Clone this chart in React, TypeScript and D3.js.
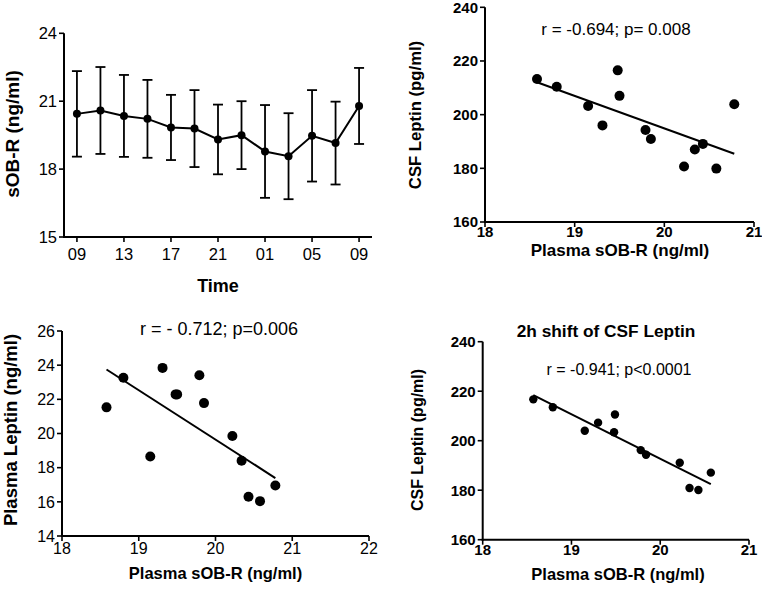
import React from "react";
import * as d3 from "d3";

// ---------- DATA ----------
const timeLabels = ["09", "11", "13", "15", "17", "19", "21", "23", "01", "03", "05", "07", "09"];
const sobrMean = [20.44, 20.59, 20.35, 20.22, 19.84, 19.79, 19.31, 19.5, 18.78, 18.57, 19.47, 19.15, 20.79];
const sobrErr = [1.89, 1.92, 1.81, 1.72, 1.44, 1.7, 1.54, 1.5, 2.05, 1.9, 2.02, 1.83, 1.68];
const sobrTicks = [15, 18, 21, 24];

const plasmaSobr = [18.58, 18.8, 19.15, 19.31, 19.48, 19.5, 19.79, 19.85, 20.22, 20.34, 20.43, 20.58, 20.78];
const csfLeptin = [213.3, 210.4, 203.2, 196.0, 216.5, 207.0, 194.3, 190.9, 180.7, 187.0, 189.1, 179.9, 203.9];
const plasmaLeptin = [21.53, 23.26, 18.65, 23.84, 22.29, 22.29, 23.41, 21.78, 19.85, 18.4, 16.3, 16.04, 16.96];
const plasmaSobrShift = [18.57, 18.79, 19.15, 19.3, 19.48, 19.49, 19.78, 19.84, 20.22, 20.33, 20.43, 20.57];
const csfLeptinShift = [216.7, 213.5, 204.0, 207.3, 203.4, 210.6, 196.2, 194.3, 191.1, 180.9, 180.1, 187.1];

const csfTicks = [160, 180, 200, 220, 240];
const sobrXTicks3 = [18, 19, 20, 21];
const sobrXTicks4 = [18, 19, 20, 21, 22];
const plasmaLeptinTicks = [14, 16, 18, 20, 22, 24, 26];

const FONT = "'Liberation Sans', Arial, Helvetica, sans-serif";

function fit(xs: number[], ys: number[]) {
  const mx = d3.mean(xs)!;
  const my = d3.mean(ys)!;
  let sxy = 0, sxx = 0;
  xs.forEach((x, i) => {
    sxy += (x - mx) * (ys[i] - my);
    sxx += (x - mx) * (x - mx);
  });
  const b = sxy / sxx;
  const a = my - b * mx;
  const x0 = d3.min(xs)!;
  const x1 = d3.max(xs)!;
  return [
    [x0, a + b * x0],
    [x1, a + b * x1],
  ];
}

type AxisProps = {
  x: d3.ScaleLinear<number, number>;
  y: d3.ScaleLinear<number, number>;
  xTicks: number[];
  xTickLabel: (v: number) => string;
  yTicks: number[];
  bold: boolean;
  fs: number;
  xLabelDy: number;
};

function Axes({ x, y, xTicks, xTickLabel, yTicks, bold, fs, xLabelDy }: AxisProps) {
  const [x0, x1] = x.range();
  const [y0, y1] = y.range();
  const fw = bold ? "bold" : "normal";
  return (
    <g>
      <line x1={x0} x2={x0} y1={y0 + 1} y2={y1} stroke="#000" strokeWidth={2} />
      <line x1={x0 - 1} x2={x1} y1={y0} y2={y0} stroke="#000" strokeWidth={2} />
      {yTicks.map((t) => (
        <g key={"y" + t}>
          <line x1={x0 - 5} x2={x0} y1={y(t)} y2={y(t)} stroke="#000" strokeWidth={1.6} />
          <text x={x0 - 7} y={y(t)} dy="0.36em" textAnchor="end" fontSize={fs} fontWeight={fw} fontFamily={FONT}>
            {t}
          </text>
        </g>
      ))}
      {xTicks.map((t, i) => (
        <g key={"x" + i}>
          <line x1={x(t)} x2={x(t)} y1={y0} y2={y0 + 5} stroke="#000" strokeWidth={1.6} />
          <text x={x(t)} y={y0 + xLabelDy} textAnchor="middle" fontSize={fs} fontWeight={fw} fontFamily={FONT}>
            {xTickLabel(t)}
          </text>
        </g>
      ))}
    </g>
  );
}

function Panel1() {
  const x = d3.scaleLinear().domain([-0.55, 12.55]).range([64, 372]);
  const y = d3.scaleLinear().domain([15, 24]).range([237, 33.3]);
  const line = d3
    .line<number>()
    .x((_, i) => x(i))
    .y((d) => y(d));
  const xt = timeLabels.map((_, i) => i).filter((i) => i % 2 === 0);
  return (
    <g>
      <Axes x={x} y={y} xTicks={xt} xTickLabel={(v) => timeLabels[v]} yTicks={sobrTicks} bold={false} fs={16.5} xLabelDy={23} />
      {sobrMean.map((m, i) => (
        <g key={i} stroke="#000" strokeWidth={1.8}>
          <line x1={x(i)} x2={x(i)} y1={y(m - sobrErr[i])} y2={y(m + sobrErr[i])} />
          <line x1={x(i) - 5} x2={x(i) + 5} y1={y(m + sobrErr[i])} y2={y(m + sobrErr[i])} />
          <line x1={x(i) - 5} x2={x(i) + 5} y1={y(m - sobrErr[i])} y2={y(m - sobrErr[i])} />
        </g>
      ))}
      <path d={line(sobrMean) || ""} fill="none" stroke="#000" strokeWidth={2} />
      {sobrMean.map((m, i) => (
        <circle key={"c" + i} cx={x(i)} cy={y(m)} r={4} fill="#000" />
      ))}
      <text x={218} y={292} textAnchor="middle" fontSize={18} fontWeight="bold" fontFamily={FONT}>
        Time
      </text>
      <text transform="translate(19,134) rotate(-90)" textAnchor="middle" fontSize={19} fontWeight="bold" fontFamily={FONT}>
        sOB-R (ng/ml)
      </text>
    </g>
  );
}

type ScatterProps = {
  xs: number[];
  ys: number[];
  xDomain: [number, number];
  yDomain: [number, number];
  xRange: [number, number];
  yRange: [number, number];
  xTicks: number[];
  yTicks: number[];
  bold: boolean;
  tickFs: number;
  xLabelDy: number;
  r: number;
};

function Scatter(p: ScatterProps) {
  const x = d3.scaleLinear().domain(p.xDomain).range(p.xRange);
  const y = d3.scaleLinear().domain(p.yDomain).range(p.yRange);
  const f = fit(p.xs, p.ys);
  return (
    <g>
      <Axes x={x} y={y} xTicks={p.xTicks} xTickLabel={(v) => String(v)} yTicks={p.yTicks} bold={p.bold} fs={p.tickFs} xLabelDy={p.xLabelDy} />
      <line x1={x(f[0][0])} y1={y(f[0][1])} x2={x(f[1][0])} y2={y(f[1][1])} stroke="#000" strokeWidth={2} />
      {p.xs.map((v, i) => (
        <circle key={i} cx={x(v)} cy={y(p.ys[i])} r={p.r} fill="#000" />
      ))}
    </g>
  );
}

export default function App() {
  return (
    <svg width={762} height={590} style={{ position: "absolute", left: 0, top: 0, background: "#fff" }}>
      <rect width={762} height={590} fill="#fff" />
      <Panel1 />

      {/* Panel 2 */}
      <Scatter
        xs={plasmaSobr}
        ys={csfLeptin}
        xDomain={[18, 21]}
        yDomain={[160, 240]}
        xRange={[485, 754]}
        yRange={[222, 7.3]}
        xTicks={sobrXTicks3}
        yTicks={csfTicks}
        bold={true}
        tickFs={15}
        xLabelDy={15}
        r={5}
      />
      <text x={616} y={35} textAnchor="middle" fontSize={17} fontFamily={FONT}>
        r = -0.694; p= 0.008
      </text>
      <text x={620} y={256} textAnchor="middle" fontSize={17} fontWeight="bold" fontFamily={FONT}>
        Plasma sOB-R (ng/ml)
      </text>
      <text transform="translate(421,115) rotate(-90)" textAnchor="middle" fontSize={16.7} fontWeight="bold" fontFamily={FONT}>
        CSF Leptin (pg/ml)
      </text>

      {/* Panel 3 */}
      <Scatter
        xs={plasmaSobr}
        ys={plasmaLeptin}
        xDomain={[18, 22]}
        yDomain={[14, 26]}
        xRange={[62, 369]}
        yRange={[536, 331]}
        xTicks={sobrXTicks4}
        yTicks={plasmaLeptinTicks}
        bold={false}
        tickFs={16}
        xLabelDy={18}
        r={5}
      />
      <text x={219} y={335} textAnchor="middle" fontSize={18} fontFamily={FONT}>
        r = - 0.712; p=0.006
      </text>
      <text x={215.5} y={579} textAnchor="middle" fontSize={16.5} fontWeight="bold" fontFamily={FONT}>
        Plasma sOB-R (ng/ml)
      </text>
      <text transform="translate(17,430) rotate(-90)" textAnchor="middle" fontSize={18.5} fontWeight="bold" fontFamily={FONT}>
        Plasma Leptin (ng/ml)
      </text>

      {/* Panel 4 */}
      <Scatter
        xs={plasmaSobrShift}
        ys={csfLeptinShift}
        xDomain={[18, 21]}
        yDomain={[160, 240]}
        xRange={[482.7, 749]}
        yRange={[539.7, 341.7]}
        xTicks={sobrXTicks3}
        yTicks={csfTicks}
        bold={true}
        tickFs={15}
        xLabelDy={15}
        r={4.2}
      />
      <text x={606} y={337} textAnchor="middle" fontSize={17.3} fontWeight="bold" fontFamily={FONT}>
        2h shift of CSF Leptin
      </text>
      <text x={619} y={375} textAnchor="middle" fontSize={16} fontFamily={FONT}>
        r = -0.941; p&lt;0.0001
      </text>
      <text x={618} y={580} textAnchor="middle" fontSize={16.5} fontWeight="bold" fontFamily={FONT}>
        Plasma sOB-R (ng/ml)
      </text>
      <text transform="translate(423,440) rotate(-90)" textAnchor="middle" fontSize={16} fontWeight="bold" fontFamily={FONT}>
        CSF Leptin (pg/ml)
      </text>
    </svg>
  );
}
